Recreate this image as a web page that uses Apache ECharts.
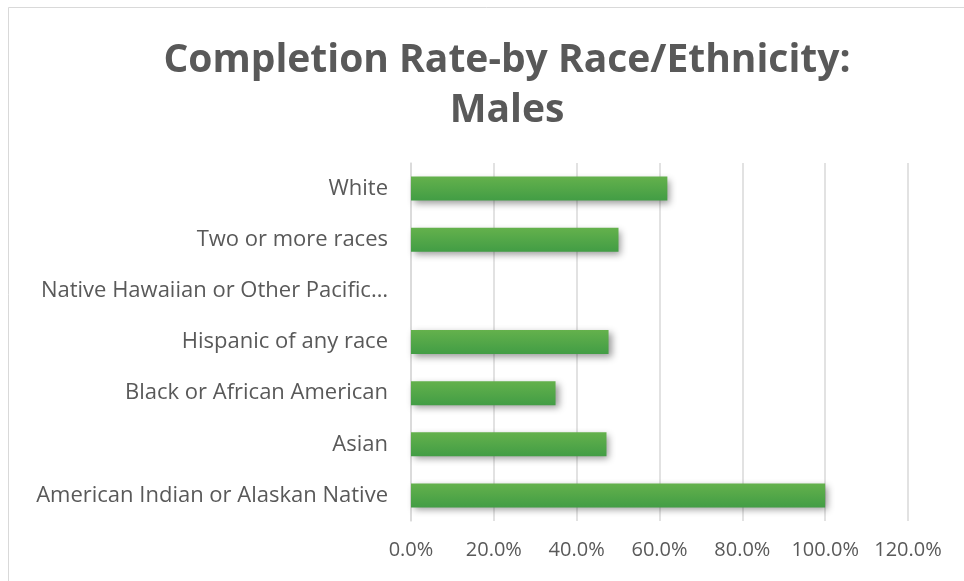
<!DOCTYPE html>
<html>
<head>
	<meta charset="utf-8">
	<title>Completion Rate-by Race/Ethnicity: Males</title>
	<script src="https://cdn.jsdelivr.net/npm/echarts@6/dist/echarts.min.js"></script>
	<style type="text/css">
		html,body{
			margin: 0;
			width: 100%;
			height: 100%;
			background: #fff;
			overflow: hidden;
		}
		#main{
			width: 964px;
			height: 581px;
		}
	</style>
</head>
<body>
<div id="main"></div>
<script>
    // categories, bottom to top as the axis draws them
    var races = ['American Indian or Alaskan Native', 'Asian', 'Black or African American',
        'Hispanic of any race', 'Native Hawaiian or Other Pacific…', 'Two or more races', 'White'];
    // completion rate, percent
    var rates = [100, 47.2, 34.9, 47.7, 0, 50.1, 61.9];
    var xTicks = [0, 20, 40, 60, 80, 100, 120];

    var myChart = echarts.init(document.getElementById('main'));
    var option = {
        backgroundColor: '#fff',
        animation: false,
        textStyle: {fontFamily: '"Open Sans", "Noto Sans", sans-serif'},
        title: {
            text: 'Completion Rate-by Race/Ethnicity:\nMales',
            left: 502,
            textAlign: 'center',
            top: 31,
            textStyle: {
                fontSize: 39,
                fontWeight: 'bold',
                color: '#595959',
                lineHeight: 50,
                fontFamily: '"Open Sans", sans-serif'
            }
        },
        graphic: [{
            type: 'rect',
            shape: {x: 8.5, y: 7.5, width: 980, height: 600},
            style: {fill: 'none', stroke: '#d9d9d9', lineWidth: 1}
        }],
        grid: {
            left: 411,
            right: 56,
            top: 163,
            bottom: 60
        },
        xAxis: {
            type: 'value',
            min: xTicks[0],
            max: xTicks[xTicks.length - 1],
            interval: 20,
            axisLine: {show: false},
            axisTick: {show: false},
            splitLine: {lineStyle: {color: '#d9d9d9', width: 1.5}},
            axisLabel: {
                margin: 19,
                fontSize: 20,
                color: '#595959',
                formatter: function (v) { return v.toFixed(1) + '%'; }
            }
        },
        yAxis: {
            type: 'category',
            data: races,
            axisLine: {lineStyle: {color: '#d9d9d9', width: 1.5}},
            axisTick: {show: false},
            axisLabel: {
                margin: 23,
                fontSize: 22,
                color: '#595959'
            }
        },
        series: [{
            type: 'bar',
            data: rates,
            barWidth: 24,
            itemStyle: {
                color: new echarts.graphic.LinearGradient(0, 0, 0, 1, [
                    {offset: 0, color: '#64b14c'},
                    {offset: 1, color: '#429d45'}
                ]),
                shadowBlur: 7,
                shadowOffsetX: 3,
                shadowOffsetY: 3,
                shadowColor: 'rgba(0,0,0,0.4)'
            }
        }]
    };
    myChart.setOption(option);
</script>
</body>
</html>
